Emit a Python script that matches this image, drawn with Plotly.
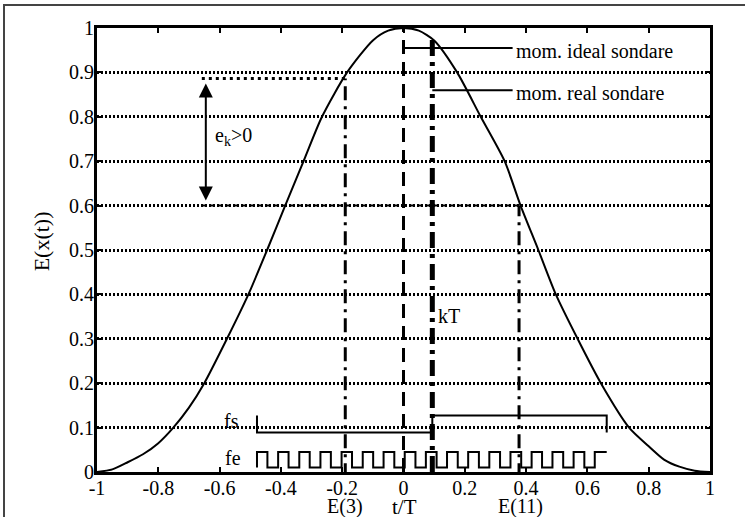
import plotly.graph_objects as go

# ---- data ----
t_curve = [-1.0, -0.95, -0.9, -0.85, -0.8, -0.751, -0.7, -0.65, -0.576, -0.506, -0.445,
           -0.386, -0.326, -0.266, -0.184, -0.1, -0.05, 0.0, 0.05, 0.1, 0.175, 0.252,
           0.33, 0.382, 0.44, 0.497, 0.568, 0.644, 0.736, 0.8, 0.85, 0.9, 0.95, 1.0]
e_curve = [0.0, 0.006, 0.022, 0.04, 0.065, 0.1, 0.145, 0.2, 0.3, 0.4, 0.5,
           0.6, 0.7, 0.8, 0.9, 0.972, 0.994, 1.0, 0.994, 0.972, 0.9, 0.8,
           0.7, 0.6, 0.5, 0.4, 0.3, 0.2, 0.1, 0.058, 0.028, 0.012, 0.003, 0.0]

# fe pulse train (edges in t/T)
fe_rises = [-0.478, -0.409, -0.340, -0.271, -0.202, -0.133, -0.065, 0.004, 0.073,
            0.142, 0.211, 0.280, 0.349, 0.418, 0.486, 0.555, 0.624]
fe_falls = [-0.444, -0.375, -0.306, -0.237, -0.168, -0.099, -0.030, 0.039, 0.108,
            0.177, 0.246, 0.315, 0.384, 0.452, 0.521, 0.590]
fe_end = 0.663
fe_low, fe_high = 0.01, 0.045

# fs step
fs_x = [-0.478, -0.478, 0.094, 0.094, 0.663, 0.663]
fs_y = [0.127, 0.089, 0.089, 0.127, 0.127, 0.089]

# vertical markers: x position and top value
x_ideal, top_ideal = 0.0, 1.0
x_real, top_real = 0.094, 0.977
x_e3, top_e3 = -0.19, 0.886
x_e11, top_e11 = 0.377, 0.6

# horizontal reference levels
lvl_high = 0.886
lvl_low = 0.6
x_arrow = -0.645
x_level_start = -0.658

y_ideal_lbl = 0.955
y_real_lbl = 0.86
x_lbl_end = 0.356

x_ticks = [-1, -0.8, -0.6, -0.4, -0.2, 0, 0.2, 0.4, 0.6, 0.8, 1]
x_ticktext = ["-1", "-0.8", "-0.6", "-0.4", "-0.2", "0", "0.2", "0.4", "0.6", "0.8", "1"]
y_ticks = [0, 0.1, 0.2, 0.3, 0.4, 0.5, 0.6, 0.7, 0.8, 0.9, 1]
y_ticktext = ["0", "0.1", "0.2", "0.3", "0.4", "0.5", "0.6", "0.7", "0.8", "0.9", "1"]

FONT = "Liberation Serif"

# build pulse path
fe_x, fe_y = [], []
for i, r in enumerate(fe_rises):
    fe_x += [r, r]
    fe_y += [fe_low, fe_high]
    if i < len(fe_falls):
        f = fe_falls[i]
        fe_x += [f, f]
        fe_y += [fe_high, fe_low]
fe_x.append(fe_end)
fe_y.append(fe_high)

fig = go.Figure()

def line(x, y, width=2, dash="solid", shape="linear"):
    fig.add_trace(go.Scatter(x=x, y=y, mode="lines",
                             line=dict(color="black", width=width, dash=dash, shape=shape),
                             hoverinfo="skip", showlegend=False, cliponaxis=False))

# curve
fig.add_trace(go.Scatter(x=t_curve, y=e_curve, mode="lines",
                         line=dict(color="black", width=2, shape="spline", smoothing=0.7),
                         hoverinfo="skip", showlegend=False))

# reference levels
line([x_level_start, x_e3], [lvl_high, lvl_high], width=3, dash="3px,4px")
line([x_level_start, x_e11], [lvl_low, lvl_low], width=2, dash="5px,3px")

# verticals
line([x_ideal, x_ideal], [0, top_ideal], width=3, dash="14px,8px")
line([x_real, x_real], [0, top_real], width=5, dash="16px,6px,4px,6px")
line([x_e3, x_e3], [-0.012, top_e3], width=3, dash="14px,6px,3px,6px")
line([x_e11, x_e11], [-0.012, top_e11], width=3, dash="14px,6px,3px,6px")

# label leaders
line([x_ideal, x_lbl_end], [y_ideal_lbl, y_ideal_lbl], width=2)
line([x_real, x_lbl_end], [y_real_lbl, y_real_lbl], width=2)

# fs / fe
line(fs_x, fs_y, width=2)
line(fe_x, fe_y, width=2)

annots = [
    dict(x=x_lbl_end + 0.003, y=y_ideal_lbl - 0.006, text="mom. ideal sondare", xanchor="left", yanchor="middle"),
    dict(x=x_lbl_end + 0.003, y=y_real_lbl - 0.006, text="mom. real sondare", xanchor="left", yanchor="middle"),
    dict(x=-0.621, y=0.755, text="e<sub>k</sub>>0", xanchor="left", yanchor="middle"),
    dict(x=0.105, y=0.352, text="kT", xanchor="left", yanchor="middle"),
    dict(x=-0.530, y=0.115, text="fs", xanchor="right", yanchor="middle"),
    dict(x=-0.524, y=0.032, text="fe", xanchor="right", yanchor="middle"),
]
for a in annots:
    fig.add_annotation(**a, showarrow=False, font=dict(family=FONT, size=20, color="black"))

# below-axis labels (paper y)
for xv, txt, yp in [(x_e3, "E(3)", -0.077), (0.003, "t/T", -0.079), (x_e11 + 0.005, "E(11)", -0.077)]:
    fig.add_annotation(x=xv, y=yp, xref="x", yref="paper", text=txt, showarrow=False,
                       xanchor="center", yanchor="middle",
                       font=dict(family=FONT, size=21 if txt == "t/T" else 20, color="black"))

# y title
fig.add_annotation(x=-0.091, y=0.52, xref="paper", yref="paper", text="E(x(t))",
                   textangle=-90, showarrow=False, xanchor="center", yanchor="middle",
                   font=dict(family=FONT, size=22, color="black"))

# double arrow
fig.add_annotation(x=x_arrow, y=0.875, ax=x_arrow, ay=0.608, xref="x", yref="y",
                   axref="x", ayref="y", text="", showarrow=True, arrowhead=2,
                   arrowside="end+start", arrowwidth=2, arrowsize=1.4,
                   arrowcolor="black", standoff=0, startstandoff=0)

fig.update_layout(
    width=745, height=517,
    margin=dict(l=97, r=35, t=28, b=45),
    plot_bgcolor="white", paper_bgcolor="white",
    font=dict(family=FONT, size=20, color="black"),
    showlegend=False,
    xaxis=dict(range=[-1, 1], tickvals=x_ticks, ticktext=x_ticktext,
               ticks="inside", ticklen=5, tickwidth=2, tickcolor="black",
               showline=True, linewidth=3, linecolor="black", mirror="ticks",
               showgrid=False, zeroline=False, tickfont=dict(family=FONT, size=20),
               ticklabelstandoff=-4),
    yaxis=dict(range=[0, 1], tickvals=y_ticks, ticktext=y_ticktext,
               ticks="inside", ticklen=5, tickwidth=2, tickcolor="black",
               showline=True, linewidth=3, linecolor="black", mirror="ticks",
               showgrid=True, gridcolor="black", gridwidth=2.5, griddash="2px,2px",
               zeroline=False, tickfont=dict(family=FONT, size=20),
               ticklabelstandoff=-4),
)

frame_js = (
    "document.body.style.margin='0';document.body.style.overflow='hidden';"
    "var d=document.createElement('div');"
    "d.style.cssText='position:absolute;left:3px;top:4px;width:2000px;height:2000px;"
    "border-left:2px solid #444;border-top:2px solid #444;pointer-events:none;';"
    "document.body.appendChild(d);"
)
fig.write_html("out.html", config={"displayModeBar": False}, post_script=frame_js)
